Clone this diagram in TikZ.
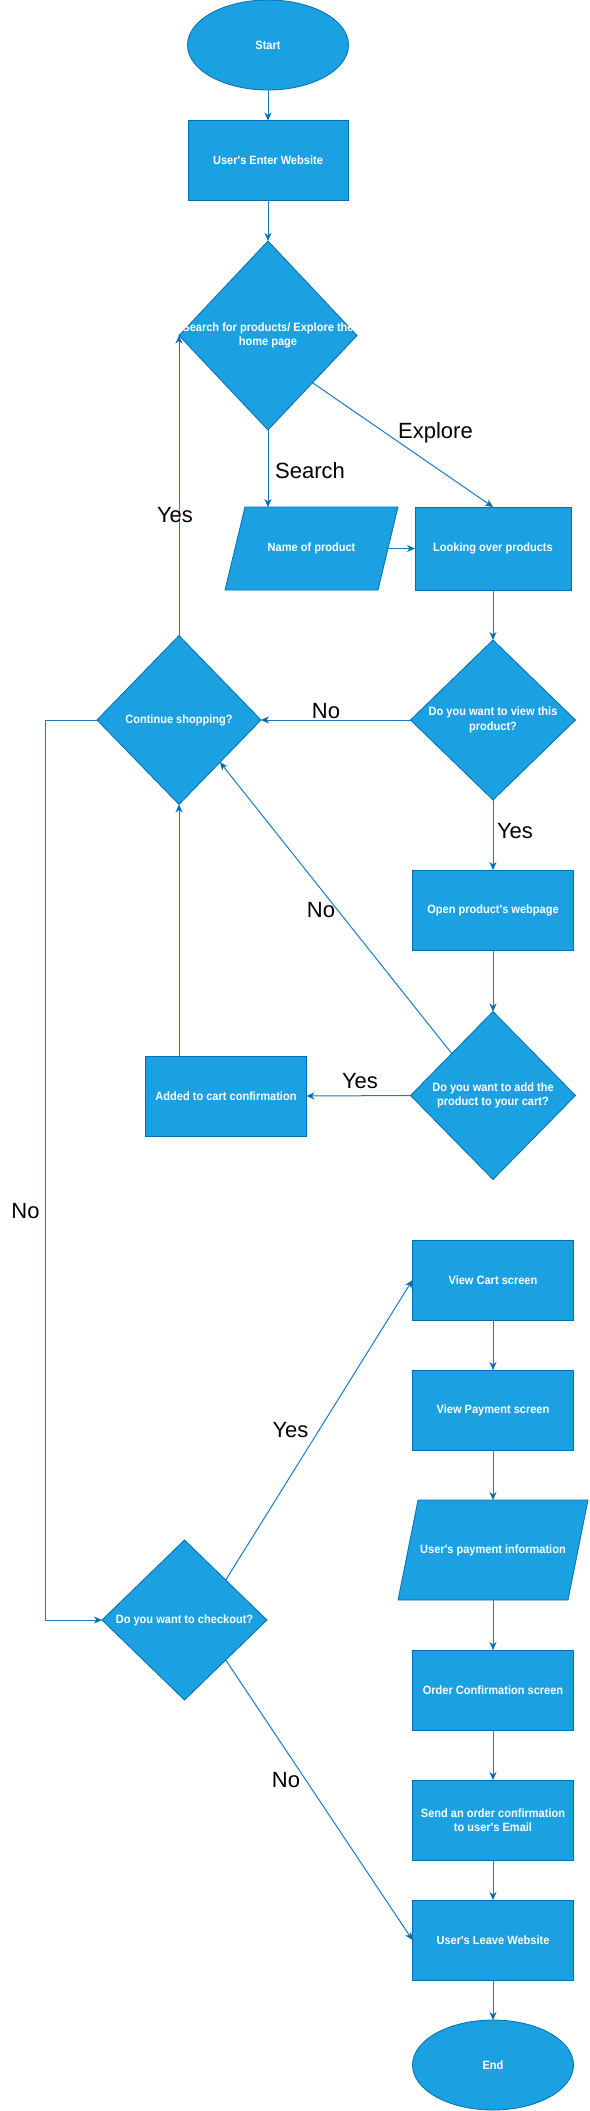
\documentclass[tikz,border=0pt]{standalone}
\usepackage{fontspec}
\setmainfont{Liberation Sans}
\newfontfamily\boxfont[FakeStretch=0.92]{Liberation Sans}
\usetikzlibrary{shapes.geometric,arrows.meta}
\definecolor{bfill}{HTML}{1BA1E2}
\definecolor{bline}{HTML}{006EAF}
\definecolor{cline}{HTML}{1A7BBF}
\pgfdeclarelayer{background}
\pgfsetlayers{background,main}
\begin{document}
\begin{tikzpicture}[x=1pt,y=-1pt,
  base/.style={fill=bfill,draw=bline,line width=0.8pt,inner sep=0pt,outer sep=0pt,text=white,
    font=\boxfont\bfseries\fontsize{12}{14.5}\selectfont,align=center},
  box/.style={base,rectangle,minimum width=161pt,minimum height=80pt},
  oval/.style={base,ellipse,minimum width=161pt,minimum height=90pt},
  dia/.style={base,diamond},
  ptext/.style={rectangle,inner sep=0pt,outer sep=0pt,text=white,
    font=\boxfont\bfseries\fontsize{12}{14.5}\selectfont,align=center},
  pshape/.style={fill=bfill,draw=bline,line width=0.8pt},
  dtext/.style={text=white,font=\boxfont\bfseries\fontsize{12}{14.5}\selectfont,align=center,inner sep=0pt},
  lbl/.style={font=\fontsize{22}{26}\selectfont,text=black,inner sep=0pt,text height=16pt,text depth=0pt},
  conn/.style={draw=cline,line width=1pt,-{Stealth[length=8pt,width=7pt,inset=2.5pt,color=bline]}}
]
\useasboundingbox (0,0) rectangle (589,2111);

\node[oval] (start) at (268,45) {Start};
\node[box, minimum width=160pt] (enter) at (268,160.5) {User's Enter Website};
\node[dia, minimum width=178pt, minimum height=189pt] (d1) at (268,335.5) {};
\node[dtext] (d1t) at (d1) {Search for products/ Explore the\\home page};
\node[ptext, minimum width=153pt, minimum height=83pt] (name) at (311.5,548.5) {Name of product};
\node[box, minimum width=156pt, minimum height=83pt] (look) at (493,548.5) {Looking over products};
\node[dia, minimum width=165pt, minimum height=160pt] (view) at (493,720) {};
\node[dtext] (viewt) at (view) {Do you want to view this\\product?};
\node[dia, minimum width=164pt, minimum height=169pt] (cont) at (179,720) {};
\node[dtext] (contt) at (cont) {Continue shopping?};
\node[box] (open) at (493,910) {Open product's webpage};
\node[dia, minimum width=165pt, minimum height=168pt] (add) at (493,1095.5) {};
\node[dtext] (addt) at (add) {Do you want to add the\\product to your cart?};
\node[box] (added) at (226,1096) {Added to cart confirmation};
\node[dia, minimum width=165pt, minimum height=160pt] (check) at (184.5,1620) {};
\node[dtext] (checkt) at (check) {Do you want to checkout?};
\node[box] (cart) at (493,1280) {View Cart screen};
\node[box] (pay) at (493,1410) {View Payment screen};
\node[ptext, minimum width=170pt, minimum height=100pt] (info) at (493,1550) {User's payment information};
\node[box] (order) at (493,1690) {Order Confirmation screen};
\node[box] (send) at (493,1820) {Send an order confirmation\\to user's Email};
\node[box] (leave) at (493,1940) {User's Leave Website};
\node[oval] (end) at (493,2065) {End};

\begin{pgfonlayer}{background}
\filldraw[pshape] ([xshift=10pt]name.north west) -- ([xshift=10pt]name.north east)
  -- ([xshift=-10pt]name.south east) -- ([xshift=-10pt]name.south west) -- cycle;
\filldraw[pshape] ([xshift=10pt]info.north west) -- ([xshift=10pt]info.north east)
  -- ([xshift=-10pt]info.south east) -- ([xshift=-10pt]info.south west) -- cycle;
\end{pgfonlayer}

\draw[conn] (start.south) -- (enter.north);
\draw[conn] (enter.south) -- (d1.north);
\draw[conn] (d1.south) -- (d1.south |- name.north);
\draw[conn] (d1.south east) -- (look.north);
\draw[conn] (name.east) -- (look.west);
\draw[conn] (look.south) -- (view.north);
\draw[conn] (view.west) -- (cont.east);
\draw[conn] (view.south) -- (open.north);
\draw[conn] (open.south) -- (add.north);
\draw[conn] (add.west) -- (added.east);
\draw[conn] (add.north west) -- (cont.south east);
\draw[conn] (cont.south |- added.north) -- (cont.south);
\draw[conn] (cont.north) -- (d1.west);
\coordinate (ncorner) at (45,720);
\draw[conn] (cont.west) -- (ncorner) |- (check.west);
\draw[conn] (check.north east) -- (cart.west);
\draw[conn] (check.south east) -- (leave.west);
\draw[conn] (cart.south) -- (pay.north);
\draw[conn] (pay.south) -- (info.north);
\draw[conn] (info.south) -- (order.north);
\draw[conn] (order.south) -- (send.north);
\draw[conn] (send.south) -- (leave.north);
\draw[conn] (leave.south) -- (end.north);

\node[lbl] (lsearch) at (310,470) {Search};
\node[lbl] (lexplore) at (435.5,430) {Explore};
\node[lbl] (lyes1) at (175,514) {Yes};
\node[lbl] (lno1) at (326,710) {No};
\node[lbl] (lyes2) at (515,830) {Yes};
\node[lbl] (lno2) at (321,909) {No};
\node[lbl] (lyes3) at (360,1080) {Yes};
\node[lbl] (lno3) at (25.5,1210) {No};
\node[lbl] (lyes4) at (290.5,1429) {Yes};
\node[lbl] (lno4) at (286,1779) {No};
\end{tikzpicture}
\end{document}
